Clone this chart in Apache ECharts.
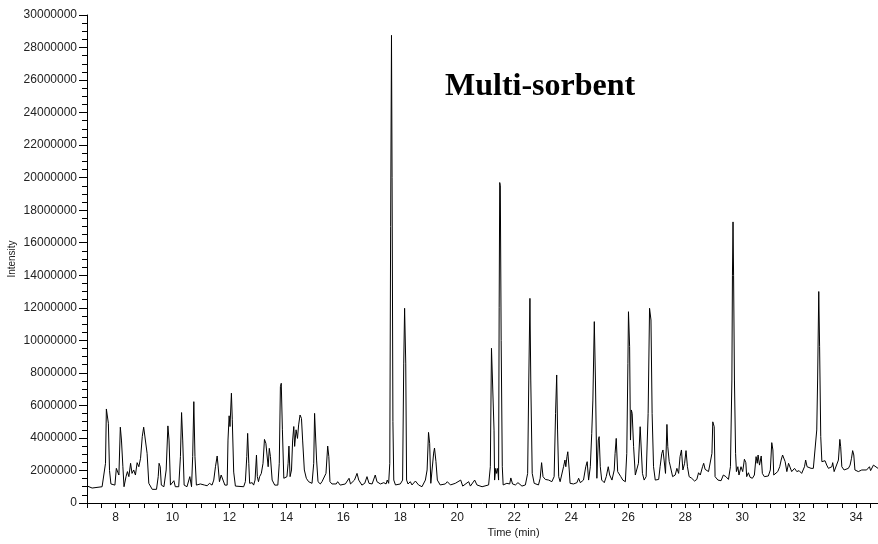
<!DOCTYPE html>
<html>
<head>
<meta charset="utf-8">
<script src="https://cdn.jsdelivr.net/npm/echarts@6/dist/echarts.min.js"></script>
<style>
  html, body { margin: 0; padding: 0; background: #fff; }
  #chart { width: 878px; height: 544px; }
</style>
</head>
<body>
<div id="chart"></div>
<script>
// chromatogram: [time (min), intensity (millions)]
var seg1 = [
  [7.0,1.05],[7.18,0.92],[7.53,1.0],[7.59,1.1],[7.65,2.44],[7.68,5.78],[7.74,5.72],[7.75,4.9],[7.79,2.0],[7.84,1.17],
  [7.98,1.1],[8.03,2.13],[8.09,2.03],[8.12,1.72],[8.17,4.66],[8.21,3.87],[8.26,2.23],[8.30,1.0],[8.37,1.62],[8.42,1.93],
  [8.47,1.62],[8.53,2.44],[8.58,1.82],[8.64,2.03],[8.70,1.72],[8.76,2.48],[8.82,2.23],[8.88,2.75],[8.94,4.08],[8.99,4.66],
  [9.05,4.6],[9.11,3.05],[9.17,1.21],[9.29,0.84],[9.44,0.84],[9.50,1.62],[9.53,2.44],[9.57,2.23],[9.61,1.1],[9.70,1.0],
  [9.78,2.03],[9.84,4.74],[9.88,3.87],[9.93,1.1],[9.99,1.0],[10.05,1.37],[10.10,1.0],[10.22,1.0],[10.28,2.85],[10.32,5.56],
  [10.36,3.87],[10.41,1.1],[10.51,1.0],[10.61,1.62],[10.67,1.0],[10.71,2.85],[10.75,6.23],[10.79,2.85],[10.84,1.1],[10.98,1.17],
  [11.04,1.27],[11.13,1.1],[11.22,1.06],[11.30,1.21],[11.39,1.1],[11.45,1.41],[11.51,2.23],[11.57,2.89],[11.60,2.33],[11.65,1.31],
  [11.71,1.72],[11.77,1.62],[11.84,1.1],[11.92,1.1],[11.95,3.87],[11.99,5.36],[12.02,4.7],[12.07,6.75],[12.10,5.15],[12.15,1.9],
  [12.21,1.04]
];
var seg2 = [
  [12.50,1.0],[12.56,1.31],[12.61,2.85],[12.64,4.28],[12.68,2.44],[12.71,1.21],[12.80,1.25],[12.85,1.1],[12.90,1.41],[12.95,2.95],
  [12.98,1.62],[13.02,1.31],[13.06,1.62],[13.12,1.82],[13.18,2.44],[13.23,3.91],[13.28,3.67],[13.31,3.77],[13.36,2.23],[13.40,3.36],
  [13.44,2.85],[13.50,1.41],[13.59,1.1],[13.70,1.1],[13.75,2.44],[13.79,7.15],[13.82,7.36],[13.86,4.5],[13.91,1.52],[13.96,1.41],
  [14.02,1.62],[14.06,2.44],[14.09,3.5],[14.13,1.62],[14.18,2.03],[14.22,3.87],[14.26,4.7],[14.29,3.48],[14.34,4.5],[14.39,3.97],
  [14.43,4.8],[14.48,5.41],[14.53,5.2],[14.57,3.87],[14.63,2.03],[14.70,1.52],[14.78,1.31],[14.90,1.21],[14.96,2.44],[14.99,5.51],
  [15.03,5.51],[15.06,2.64],[15.11,1.31],[15.19,1.17],[15.25,1.31],[15.31,1.25],[15.39,1.82],[15.45,3.5],[15.49,2.85],[15.53,1.31],
  [15.60,1.17],[15.75,1.17],[15.80,1.31],[15.89,1.1],[16.07,1.17],[16.20,1.52],[16.25,1.17],[16.39,1.41],[16.48,1.82],[16.54,1.41],
  [16.65,1.1],[16.75,1.21],[16.83,1.62],[16.90,1.21],[17.01,1.17],[17.12,1.72],[17.18,1.31]
];
var seg3 = [
  [17.30,1.17],[17.42,1.25],[17.50,1.17],[17.54,1.41],[17.59,1.21],[17.63,2.44],[17.66,17.0],[17.69,28.75],[17.71,20.0],[17.74,5.0],
  [17.77,1.41],[17.83,1.11],[18.00,1.17],[18.08,1.41],[18.12,8.6],[18.15,11.97],[18.19,8.6],[18.22,1.41],[18.27,1.17],[18.35,1.31],
  [18.41,1.11],[18.53,1.35],[18.64,1.11],[18.76,1.0],[18.88,1.41],[18.94,2.03],[18.99,4.34],[19.03,3.67],[19.07,1.21],[19.11,1.17],
  [19.17,3.07],[19.20,3.38],[19.25,2.56],[19.30,1.41],[19.40,1.11],[19.58,1.17],[19.65,1.31],[19.76,1.11],[19.93,1.21],[20.12,1.41],
  [20.19,1.04],[20.40,1.31],[20.46,1.04],[20.61,1.41],[20.69,1.11],[20.87,1.0],[21.10,1.11],[21.16,2.23],[21.20,9.51],[21.24,9.41],
  [21.29,4.48],[21.31,1.41],[21.35,2.13],[21.38,1.82],[21.42,2.13],[21.45,1.41],[21.47,12.0],[21.49,19.7],[21.51,19.5],[21.54,10.0],
  [21.58,2.23],[21.61,1.11],[21.74,1.21],[21.84,1.17],[21.88,1.54],[21.94,1.17],[22.04,1.11],[22.13,1.25],[22.27,1.04]
];
var seg4 = [
  [22.39,1.11],[22.47,1.82],[22.51,7.56],[22.55,12.58],[22.58,7.56],[22.63,1.82],[22.70,1.21],[22.85,1.11],[22.91,1.52],[22.96,2.48],
  [23.01,1.62],[23.09,1.45],[23.21,1.41],[23.32,1.31],[23.40,1.62],[23.45,5.51],[23.49,7.87],[23.52,4.49],[23.56,1.62],[23.61,1.31],
  [23.67,1.41],[23.73,2.23],[23.78,2.64],[23.81,2.23],[23.85,2.85],[23.88,3.15],[23.93,2.03],[23.96,1.21],[24.08,1.17],[24.20,1.25],
  [24.26,1.52],[24.32,1.25],[24.43,1.41],[24.51,2.23],[24.56,2.54],[24.61,1.41],[24.67,2.23],[24.72,4.28],[24.76,6.33],[24.78,6.23],
  [24.81,11.15],[24.85,7.56],[24.90,1.52],[24.95,3.87],[24.98,4.08],[25.02,2.23],[25.07,1.41],[25.16,1.25],[25.23,1.62],[25.30,2.23],
  [25.35,1.72],[25.43,1.41],[25.51,2.03],[25.54,3.05],[25.58,3.97],[25.63,1.93],[25.69,1.82],[25.74,1.62],[25.81,1.41],[25.90,1.31],
  [25.95,3.05],[25.99,8.59],[26.01,11.76],[26.05,9.61],[26.08,3.87],[26.11,5.72],[26.14,5.51],[26.19,3.46],[26.25,1.72],[26.30,1.62],
  [26.36,2.44],[26.42,4.69],[26.47,4.69],[26.50,1.82],[26.56,1.41],[26.63,1.62],[26.70,5.51],[26.75,11.97],[26.80,11.25],[26.84,5.51],
  [26.89,2.23],[26.95,1.41],[27.01,1.52],[27.07,1.45],[27.12,2.23],[27.18,3.05],[27.22,3.26],[27.26,2.64],[27.31,1.82],[27.36,4.83],
  [27.39,3.46]
];
var seg5 = [
  [27.44,2.54],[27.47,2.33],[27.56,1.62],[27.65,1.72],[27.71,2.13],[27.77,1.82],[27.82,2.85],[27.87,3.26],[27.92,2.03],[27.98,2.44],
  [28.03,3.22],[28.08,2.23],[28.14,1.62],[28.23,1.52],[28.33,1.35],[28.41,1.45],[28.47,1.86],[28.53,1.72],[28.61,2.23],[28.65,2.44],
  [28.70,2.07],[28.76,2.13],[28.82,1.93],[28.88,1.82],[28.94,3.05],[28.97,4.99],[29.02,4.69],[29.05,1.62],[29.15,1.41],[29.26,1.37],
  [29.34,1.72],[29.43,1.62],[29.52,1.45],[29.59,2.23],[29.64,7.56],[29.66,14.0],[29.68,17.28],[29.70,14.0],[29.73,7.56],[29.77,3.05],
  [29.80,1.93],[29.85,2.23],[29.89,1.72],[29.96,2.23],[30.02,1.93],[30.08,2.69],[30.13,2.48],[30.16,1.62],[30.22,1.86],[30.28,1.58],
  [30.36,1.52],[30.43,1.72],[30.49,2.85],[30.53,2.44],[30.56,2.95],[30.61,2.33],[30.67,2.89],[30.71,1.82],[30.78,1.62],[30.92,1.66],
  [30.99,2.03],[31.04,3.71],[31.08,3.26],[31.11,1.72],[31.18,1.72],[31.25,1.93],[31.32,2.23],[31.37,2.64],[31.42,2.95],[31.46,3.05],
  [31.51,2.54],[31.57,1.93],[31.63,2.44],[31.68,2.54],[31.74,1.93],[31.84,2.13],[31.92,1.93],[32.00,1.99],[32.09,1.82],[32.19,2.23],
  [32.23,2.64],[32.28,2.23],[32.35,2.33],[32.42,2.13],[32.50,2.13]
];
var seg6 = [
  [32.56,2.13],[32.62,4.49],[32.65,7.56],[32.69,13.0],[32.72,9.61],[32.76,4.08],[32.80,2.54],[32.85,2.44],[32.91,2.6],[32.97,2.33],
  [33.03,2.13],[33.09,2.03],[33.15,2.23],[33.18,2.48],[33.23,1.93],[33.30,1.93],[33.38,2.64],[33.43,3.91],[33.46,3.46],[33.50,2.23],
  [33.58,2.03],[33.65,1.93],[33.73,2.13],[33.79,2.33],[33.84,2.75],[33.88,3.22],[33.92,2.95],[33.96,2.03],[34.02,2.13],[34.08,1.93],
  [34.20,2.03],[34.37,2.03],[34.47,2.23],[34.51,1.99],[34.61,2.33],[34.68,2.23],[34.77,2.13]
];

var chromatogram = seg1.concat(seg2, seg3, seg4, seg5, seg6).map(function (p) {
  return [p[0], p[1] * 1e6];
});

var myChart = echarts.init(document.getElementById('chart'));

var option = {
  animation: false,
  backgroundColor: '#fff',
  title: {
    text: 'Multi-sorbent',
    left: 445,
    top: 71,
    padding: 0,
    textStyle: {
      fontFamily: 'Liberation Serif',
      fontWeight: 'bold',
      fontSize: 32,
      color: '#000'
    }
  },
  grid: {
    left: 87,
    right: 0,
    top: 15,
    bottom: 41,
    outerBoundsMode: 'none'
  },
  xAxis: {
    type: 'value',
    min: 7,
    max: 34.77,
    interval: 0.5,
    name: 'Time (min)',
    nameLocation: 'middle',
    nameGap: 24,
    nameMoveOverlap: false,
    nameTextStyle: {
      fontFamily: 'Liberation Sans',
      fontSize: 11,
      color: '#222',
      padding: [0, 0, 0, 62]
    },
    axisLine: { lineStyle: { color: '#000', width: 1 } },
    axisTick: { show: true, length: 5, lineStyle: { color: '#000' } },
    axisLabel: {
      margin: 9,
      fontFamily: 'Liberation Sans',
      fontSize: 12,
      color: '#222',
      formatter: function (v) {
        return Math.abs(v % 2) < 1e-6 ? String(v) : '';
      }
    },
    splitLine: { show: false }
  },
  yAxis: {
    type: 'value',
    min: 0,
    max: 30000000,
    interval: 2000000,
    name: 'Intensity',
    nameLocation: 'middle',
    nameGap: 70,
    nameMoveOverlap: false,
    nameTextStyle: {
      fontFamily: 'Liberation Sans',
      fontSize: 10,
      color: '#222'
    },
    axisLine: { show: true, lineStyle: { color: '#000', width: 1 } },
    axisTick: { show: true, length: 8, lineStyle: { color: '#000' } },
    minorTick: { show: true, splitNumber: 4, length: 5, lineStyle: { color: '#000' } },
    axisLabel: {
      margin: 10,
      fontFamily: 'Liberation Sans',
      fontSize: 12,
      color: '#222',
      formatter: function (v) { return String(v); }
    },
    splitLine: { show: false },
    minorSplitLine: { show: false }
  },
  series: [{
    type: 'line',
    data: chromatogram,
    showSymbol: false,
    symbol: 'none',
    lineStyle: { color: '#000', width: 1 },
    clip: true
  }]
};

myChart.setOption(option);
</script>
</body>
</html>
